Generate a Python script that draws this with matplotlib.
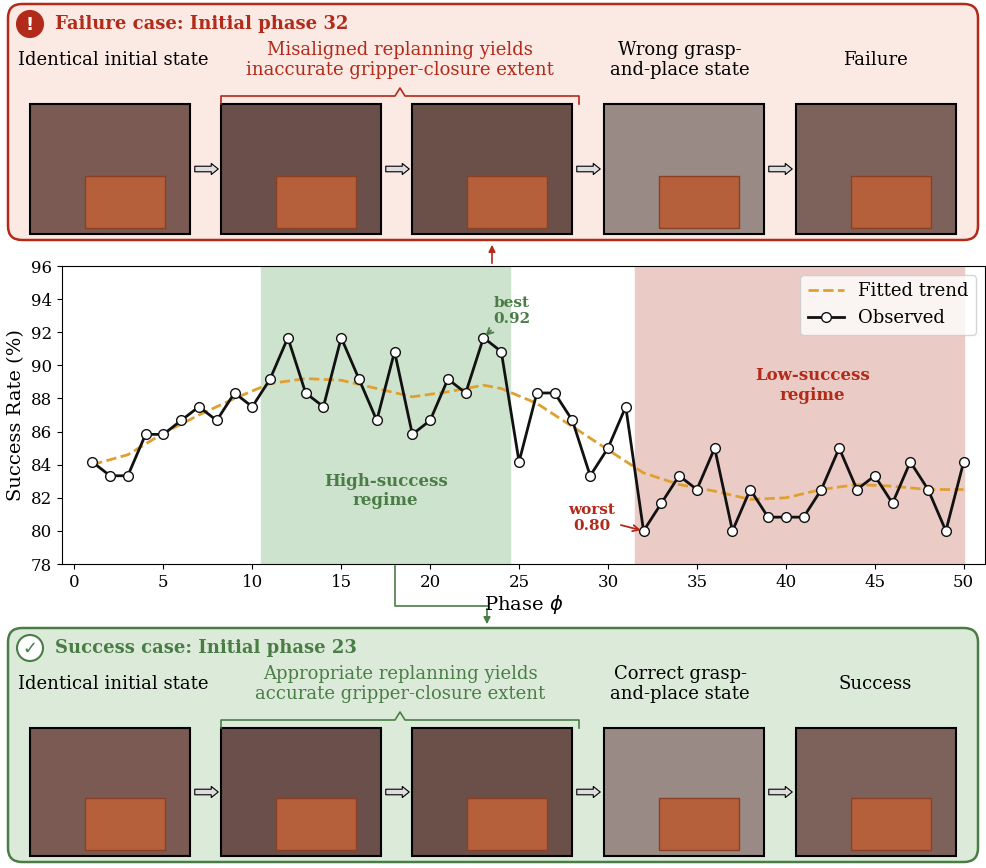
import matplotlib.pyplot as plt
import numpy as np
from matplotlib.patches import FancyBboxPatch, Rectangle, Circle

plt.rcParams['font.family'] = 'DejaVu Serif'

# observed success rate (%) per initial phase
phase = list(range(1, 51))
observed = [84.17, 83.33, 83.33, 85.83, 85.83, 86.67, 87.5, 86.67, 88.33, 87.5,
            89.17, 91.67, 88.33, 87.5, 91.67, 89.17, 86.67, 90.83, 85.83, 86.67,
            89.17, 88.33, 91.67, 90.83, 84.17, 88.33, 88.33, 86.67, 83.33, 85.0,
            87.5, 80.0, 81.67, 83.33, 82.5, 85.0, 80.0, 82.5, 80.83, 80.83,
            80.83, 82.5, 85.0, 82.5, 83.33, 81.67, 84.17, 82.5, 80.0, 84.17]
trend_x = [1, 3, 5, 7, 9, 11, 13, 15, 17, 19, 21, 23, 24, 26, 28, 30, 32, 34, 36, 38, 40, 42, 44, 46, 48, 50]
trend_y = [84.0, 84.6, 85.9, 87.0, 88.0, 88.9, 89.2, 89.1, 88.6, 88.1, 88.4, 88.8, 88.6, 87.7,
           86.3, 84.9, 83.5, 82.8, 82.4, 81.9, 82.0, 82.5, 82.8, 82.7, 82.5, 82.5]

top_labels = ["Identical initial state", "Misaligned replanning yields\ninaccurate gripper-closure extent",
              "Wrong grasp-\nand-place state", "Failure"]
bot_labels = ["Identical initial state", "Appropriate replanning yields\naccurate gripper-closure extent",
              "Correct grasp-\nand-place state", "Success"]

RED = '#b22a1a'
GREEN = '#4a7d46'
W, H = 987, 868

fig = plt.figure(figsize=(W / 100, H / 100), dpi=100)
ov = fig.add_axes([0, 0, 1, 1])
ov.set_xlim(0, W)
ov.set_ylim(H, 0)
ov.axis('off')


def panel(y0, y1, face, edge, title, color, labels, icon):
    ov.add_patch(FancyBboxPatch((8, y0), 970, y1 - y0, boxstyle='round,pad=0,rounding_size=14',
                                fc=face, ec=edge, lw=1.8))
    ov.add_patch(Circle((30, y0 + 20), 13, fc='white' if icon == 'ok' else RED, ec=color, lw=1.5))
    ov.text(30, y0 + 21, '!' if icon == 'warn' else '✓', color='white' if icon == 'warn' else color,
            ha='center', va='center', fontsize=13, fontweight='bold', family=['DejaVu Sans'])
    ov.text(55, y0 + 20, title, color=color, fontsize=13, fontweight='bold', va='center')
    ty = y0 + 56
    ov.text(113, ty, labels[0], ha='center', va='center', fontsize=13)
    ov.text(400, ty, labels[1], ha='center', va='center', fontsize=13, color=color, linespacing=1.1)
    ov.text(680, ty, labels[2], ha='center', va='center', fontsize=13, linespacing=1.1)
    ov.text(875, ty, labels[3], ha='center', va='center', fontsize=13)
    # brace
    by = y0 + 92
    ov.plot([221, 221, 395, 400, 405, 579, 579], [by + 8, by, by, by - 8, by, by, by + 8], color=color, lw=1.2)
    ix = [30, 221, 412, 604, 796]
    iy0, iy1 = y0 + 100, y1 - 6
    shades = ['#7a5a52', '#6a4f4a', '#6b504a', '#9a8a86', '#7d625c']
    for k, x in enumerate(ix):
        ov.add_patch(Rectangle((x, iy0), 160, iy1 - iy0, fc=shades[k], ec='black', lw=1.5))
        ov.add_patch(Rectangle((x + 55, iy0 + (iy1 - iy0) * 0.55), 80, (iy1 - iy0) * 0.4,
                               fc='#b5603a', ec='#8a4025', lw=1))
        if k < 4:
            ov.annotate('', xy=(x + 191, (iy0 + iy1) / 2), xytext=(x + 162, (iy0 + iy1) / 2),
                        arrowprops=dict(arrowstyle='simple,head_width=0.8,tail_width=0.4',
                                        fc='#dddddd', ec='black', lw=0.8))


panel(4, 240, '#fbe9e3', RED, 'Failure case: Initial phase 32', RED, top_labels, 'warn')
panel(628, 862, '#dcebd9', GREEN, 'Success case: Initial phase 23', GREEN, bot_labels, 'ok')

# connectors
ov.annotate('', xy=(492, 242), xytext=(492, 266), arrowprops=dict(arrowstyle='-|>', color=RED, lw=1.2))
ov.plot([395, 395, 487], [566, 606, 606], color=GREEN, lw=1.2)
ov.annotate('', xy=(487, 627), xytext=(487, 606), arrowprops=dict(arrowstyle='-|>', color=GREEN, lw=1.2))

ax = fig.add_axes([62 / W, 1 - 564 / H, (985 - 62) / W, (564 - 266) / H])
ax.axvspan(10.5, 24.5, color='#cde3cd', zorder=0)
ax.axvspan(31.5, 50, color='#ebcbc6', zorder=0)
ax.plot(trend_x, trend_y, '--', color='#e0a030', lw=2, label='Fitted trend', zorder=2)
ax.plot(phase, observed, '-o', color='#111111', lw=2, mfc='white', mec='#111111', ms=7,
        label='Observed', zorder=3)
ax.set_xlim(-0.7, 51.2)
ax.set_ylim(78, 96)
ax.set_xticks(range(0, 51, 5))
ax.set_yticks(range(78, 97, 2))
ax.tick_params(labelsize=12)
ax.set_xlabel('Phase $\\phi$', fontsize=14, labelpad=2)
ax.set_ylabel('Success Rate (%)', fontsize=14)
ax.legend(loc='upper right', fontsize=13, framealpha=0.8)
ax.annotate('best\n0.92', xy=(23, 91.67), xytext=(24.6, 93.3), color=GREEN, fontweight='bold',
            fontsize=11, ha='center', va='center', arrowprops=dict(arrowstyle='->', color=GREEN, lw=1.3))
ax.annotate('worst\n0.80', xy=(32, 80), xytext=(29.1, 80.8), color=RED, fontweight='bold',
            fontsize=11, ha='center', va='center', arrowprops=dict(arrowstyle='->', color=RED, lw=1.3))
ax.text(17.5, 82.4, 'High-success\nregime', color=GREEN, fontweight='bold', fontsize=12, ha='center', va='center')
ax.text(41.5, 88.8, 'Low-success\nregime', color=RED, fontweight='bold', fontsize=12, ha='center', va='center')

fig.savefig('out.png', dpi=100)
